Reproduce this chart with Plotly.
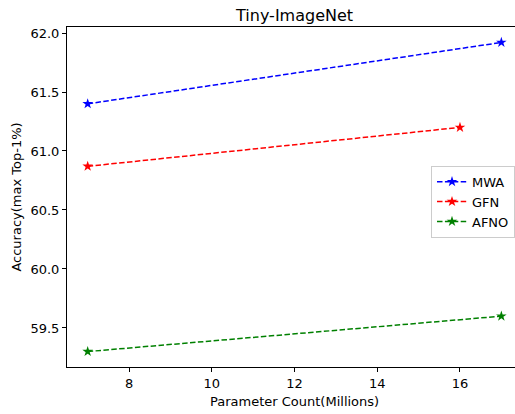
import plotly.graph_objects as go

params_mwa = [7, 17]
acc_mwa = [61.40, 61.92]
params_gfn = [7, 16]
acc_gfn = [60.87, 61.20]
params_afno = [7, 17]
acc_afno = [59.30, 59.60]
names = ["MWA", "GFN", "AFNO"]
colors = ["#0000ff", "#ff0000", "#008000"]

fig = go.Figure()
for xs, ys, n, c in [(params_mwa, acc_mwa, names[0], colors[0]),
                     (params_gfn, acc_gfn, names[1], colors[1]),
                     (params_afno, acc_afno, names[2], colors[2])]:
    fig.add_trace(go.Scatter(x=xs, y=ys, name=n, mode="lines+markers",
                             line=dict(color=c, width=1.5, dash="5.5px,2.4px"),
                             marker=dict(symbol="star", size=8, color=c)))

font = dict(family="DejaVu Sans", size=13, color="#000000")
fig.update_layout(
    width=515, height=414,
    margin=dict(l=67, r=0, t=27, b=47),
    plot_bgcolor="white", paper_bgcolor="white",
    font=font,
    title=dict(text="Tiny-ImageNet", x=0.508, xref="paper", y=1 - 15/414, yref="container",
               xanchor="center", yanchor="middle", font=dict(family="DejaVu Sans", size=16, color="#000")),
    xaxis=dict(range=[6.5, 17.33], tickvals=[8, 10, 12, 14, 16], showgrid=False, zeroline=False,
               showline=True, linecolor="#000", linewidth=1, mirror=True,
               ticks="outside", ticklen=4, tickcolor="#000", automargin=False),
    yaxis=dict(range=[59.169, 62.051], tickvals=[59.5, 60.0, 60.5, 61.0, 61.5, 62.0],
               ticktext=["59.5", "60.0", "60.5", "61.0", "61.5", "62.0"],
               showgrid=False, zeroline=False,
               showline=True, linecolor="#000", linewidth=1,
               ticks="outside", ticklen=4, tickcolor="#000", automargin=False,
               title=dict(text="Accuracy(max Top-1%)", standoff=5, font=font)),
    legend=dict(x=1.0, y=0.592, xanchor="right", yanchor="top",
                bgcolor="rgba(255,255,255,0.8)", bordercolor="#cccccc", borderwidth=1,
                font=font, itemwidth=30, tracegroupgap=0),
    showlegend=True,
    annotations=[dict(text="Parameter Count(Millions)", xref="paper", yref="paper",
                      x=(294 - 67) / 448, y=(367 - 401) / 340, xanchor="center", yanchor="middle",
                      showarrow=False, font=font)],
)
fig.write_html("out.html", config={"displayModeBar": False},
               post_script="document.documentElement.style.overflow='hidden';"
                           "document.body.style.margin='0';document.body.style.overflow='hidden';")
